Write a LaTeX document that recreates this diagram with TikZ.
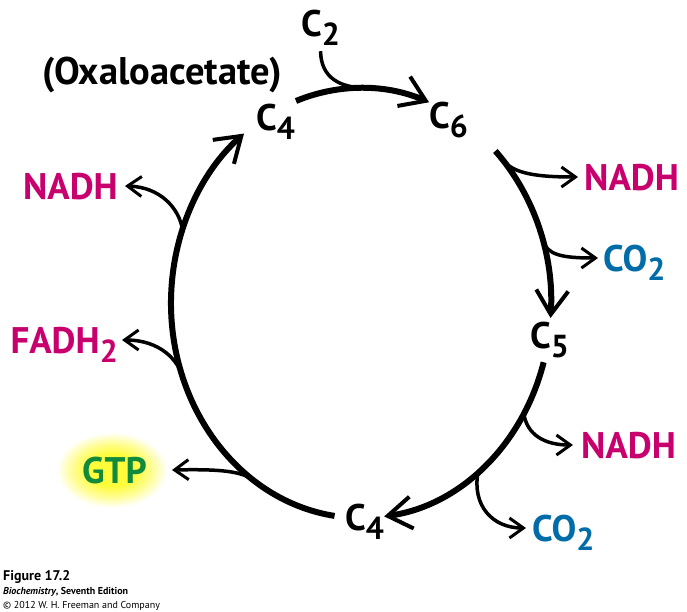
\documentclass[tikz,border=0pt]{standalone}
\usepackage{fontspec}
\setmainfont{PT Sans}
\usepackage{graphicx}
\usetikzlibrary{arrows.meta,calc}
\definecolor{mag}{RGB}{200,0,110}
\definecolor{cblue}{RGB}{0,108,168}
\definecolor{gtpgreen}{RGB}{16,138,60}
\definecolor{glowc}{RGB}{255,252,60}
\pgfdeclareradialshading{gtpglow}{\pgfpoint{0bp}{0bp}}{color(0bp)=(glowc); color(9bp)=(glowc); color(15bp)=(glowc!55!white); color(21bp)=(white); color(50bp)=(white)}
\newcommand\sbs[1]{\raisebox{-9pt}{\scalebox{0.86}{#1}}}
\begin{document}
\begin{tikzpicture}[x=1pt,y=-1pt,
  lbl/.style={font=\fontsize{37}{40}\selectfont\bfseries, inner ysep=0pt, text height=26pt, text depth=0pt},
  cnode/.style={lbl, inner xsep=0pt, anchor=base west},
  mainarc/.style={line width=6pt, -{Straight Barb[length=24pt,width=32pt,line width=4pt]}},
  side/.style={line width=3.5pt, -{Straight Barb[length=14pt,width=20pt,line width=3pt]}},
  merge/.style={line width=3.5pt},
  captxt/.style={anchor=base west, inner sep=0pt}]
\useasboundingbox (0,0) rectangle (687,611);
% glow behind GTP
\shade[shading=gtpglow] (112,470) ellipse [x radius=66pt, y radius=45pt];
% cycle geometry
\coordinate (O) at (361,303);
\coordinate (a1s) at ($(O)+(110:190pt and 215pt)$);
\coordinate (a2s) at ($(O)+(45:190pt and 215pt)$);
\coordinate (a3s) at ($(O)+(-16:190pt and 215pt)$);
\coordinate (a4s) at ($(O)+(262:190pt and 215pt)$);
\coordinate (jc2) at ($(O)+(88:190pt and 215pt)$);
\coordinate (jn1) at ($(O)+(42:190pt and 215pt)$);
\coordinate (jo1) at ($(O)+(17:190pt and 215pt)$);
\coordinate (jn2) at ($(O)+(-31:190pt and 215pt)$);
\coordinate (jo2) at ($(O)+(-52:190pt and 215pt)$);
\coordinate (jg) at ($(O)+(236:190pt and 215pt)$);
\coordinate (jf) at ($(O)+(201:190pt and 215pt)$);
\coordinate (jnl) at ($(O)+(160:190pt and 215pt)$);
% labels
\node[cnode] (c2) at (301,36) {C\sbs{2}};
\node[cnode] (c4t) at (256,130) {C\sbs{4}};
\node[cnode] (c6) at (429,128) {C\sbs{6}};
\node[cnode] (c5) at (530,348) {C\sbs{5}};
\node[cnode] (c4b) at (345,530) {C\sbs{4}};
\node[cnode, font=\fontsize{38.5}{40}\selectfont\bfseries] (oxa) at (42,84) {(Oxaloacetate)};
\node[lbl, text=mag, anchor=west, inner xsep=6pt] (nadh1) at (578,177) {NADH};
\node[lbl, text=cblue, anchor=west, inner xsep=5pt] (co2a) at (598,258) {CO\sbs{2}};
\node[lbl, text=mag, anchor=west, inner xsep=8pt] (nadh2) at (573,445) {NADH};
\node[lbl, text=cblue, anchor=west, inner xsep=6pt] (co2b) at (526,528) {CO\sbs{2}};
\node[lbl, text=mag, anchor=east, inner xsep=7pt] (nadhl) at (125,186) {NADH};
\node[lbl, text=mag, anchor=east, inner xsep=4pt] (fadh) at (122,340) {FADH\sbs{2}};
\node[lbl, text=gtpgreen, anchor=east, inner xsep=25pt] (gtp) at (172,470) {GTP};
% main cycle
\draw[mainarc] (a1s) arc[start angle=110, end angle=69, x radius=190pt, y radius=215pt];
\draw[mainarc] (a2s) arc[start angle=45, end angle=-4, x radius=190pt, y radius=215pt];
\draw[mainarc] (a3s) arc[start angle=-16, end angle=-83, x radius=190pt, y radius=215pt];
\draw[mainarc] (a4s) arc[start angle=262, end angle=128, x radius=190pt, y radius=215pt];
% incoming C2
\coordinate (c2end) at ($(c2.south)+(0,15)$);
\draw[merge] (c2end) .. controls (321,78) and (340,88) .. (jc2);
% outgoing branches
\draw[side] (jn1) .. controls (512,172) and (530,177) .. (nadh1.west);
\draw[side] (jo1) .. controls (547,255) and (562,258) .. (co2a.west);
\draw[side] (jn2) .. controls (527,435) and (545,445) .. (nadh2.west);
\draw[side] (jo2) .. controls (472,505) and (492,528) .. (co2b.west);
\draw[side] (jg) .. controls (243,471) and (220,469) .. (gtp.east);
\draw[side] (jf) .. controls (179,360) and (160,340) .. (fadh.east);
\draw[side] (jnl) .. controls (179,208) and (160,187) .. (nadhl.east);
% caption
\node[captxt, font=\fontsize{14}{15}\selectfont\bfseries] (fig) at (3,580) {Figure 17.2};
\node[captxt, font=\fontsize{10}{12}\selectfont] (book) at (3,594) {\textbf{\textit{Biochemistry}, Seventh Edition}};
\node[captxt, font=\fontsize{10}{12}\selectfont] (copy) at (3,608) {© 2012 W. H. Freeman and Company};
\end{tikzpicture}
\end{document}
